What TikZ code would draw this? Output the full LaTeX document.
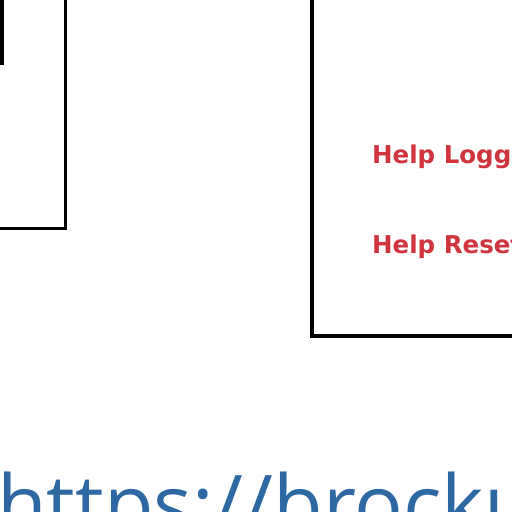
\documentclass[tikz,border=0pt]{standalone}
\usepackage{fontspec}
\setmainfont{Open Sans}
\newfontfamily\helpfont{DejaVu Sans}
\definecolor{urlblue}{RGB}{46,104,162}
\definecolor{helpred}{RGB}{208,52,60}
\begin{document}
\begin{tikzpicture}[x=1pt,y=-1pt,
  boxline/.style={draw=black,line width=3pt},
  helptext/.style={text=helpred,font=\helpfont\bfseries\fontsize{24.5}{24.5}\selectfont,anchor=base west,inner sep=0pt},
  urltext/.style={text=urlblue,font=\fontsize{81}{81}\selectfont,anchor=base west,inner sep=0pt}]
\useasboundingbox (0,0) rectangle (512,512);
\clip (0,0) rectangle (512,512);
\fill[white] (0,0) rectangle (512,512);
% left box (partially visible)
\draw[boxline] (-10,-10) rectangle (65,228);
\fill[black] (-2,-2) rectangle (3.8,65);
% right box (partially visible)
\draw[boxline,line width=3.4pt] (312,-10) rectangle (530,336);
\node[helptext] (login) at (372,163) {Help Logging};
\node[helptext] (reset) at (372,253) {Help Reset};
\node[urltext] (url) at (-3,533) {https://brocku};
\end{tikzpicture}
\end{document}
